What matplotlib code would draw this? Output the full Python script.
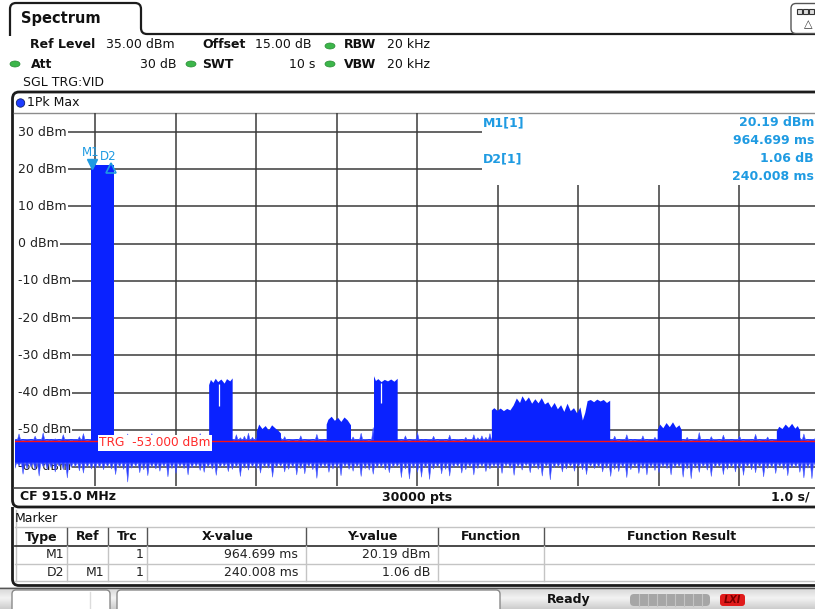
import numpy as np
import matplotlib
matplotlib.use("Agg")
import matplotlib.pyplot as plt
from matplotlib.path import Path
from matplotlib.patches import PathPatch, FancyBboxPatch, Ellipse, Circle

plt.rcParams['font.family'] = ['DejaVu Sans']

W, H = 815, 609

# ---------------- values ----------------
sweep_s = 10.0            # 1.0 s/div, 10 div
ref_level = 35.0          # dBm (top of screen)
bottom_level = -65.0
y_levels = [30, 20, 10, 0, -10, -20, -30, -40, -50, -60]
trg_level = -53.0

# solid part of the noise band (dBm)
core_hi, core_lo = -52.6, -58.8

# noise spikes, one value every 0.05 s (0 .. 10 s)
noise_hi = [
    -52.4, -51.0, -52.8, -52.5, -52.9, -51.6, -52.6, -50.7, -52.9, -52.7, -52.3, -52.8, -51.2, -52.5, -52.9, -52.6, -51.7, -50.9, -52.8, -52.4,
    -52.5, -52.5, -52.5, -52.5, -52.5, -51.6, -52.8, -52.6, -51.0, -52.9, -52.4, -52.7, -51.8, -52.9, -50.9, -52.6, -52.8, -52.3, -51.4, -52.9,
    -52.7, -51.3, -52.5, -52.9, -52.6, -51.8, -50.9, -52.8, -52.5, -52.9, -52.5, -52.5, -52.5, -52.5, -52.5, -51.2, -52.0, -51.6, -50.8, -51.9,
    -52.0, -52.0, -52.0, -52.0, -52.0, -52.0, -52.0, -51.7, -52.8, -52.5, -52.9, -51.5, -52.7, -52.4, -52.9, -51.1, -52.6, -52.8, -52.0, -52.0,
    -52.0, -52.0, -52.0, -52.0, -51.8, -52.6, -50.8, -52.5, -52.9, -49.3, -52.5, -52.5, -52.5, -52.5, -52.5, -52.5, -52.7, -51.5, -52.8, -52.4,
    -50.6, -52.7, -52.9, -52.5, -51.6, -52.8, -52.6, -52.9, -51.3, -52.7, -52.4, -52.8, -51.9, -52.5, -51.2, -52.0, -51.5, -51.9, -50.9, -51.7,
    -52.0, -52.0, -52.0, -52.0, -52.0, -52.0, -52.0, -52.0, -52.0, -52.0, -52.0, -52.0, -52.0, -52.0, -52.0, -52.0, -52.0, -52.0, -52.0, -52.0,
    -52.0, -52.0, -52.0, -52.0, -52.0, -52.0, -52.0, -52.0, -52.6, -51.6, -52.9, -52.5, -51.2, -52.8, -52.7, -52.4, -51.5, -52.9, -52.6, -51.9,
    -52.0, -52.0, -52.0, -52.0, -52.0, -52.0, -52.7, -51.9, -52.8, -52.5, -50.6, -52.6, -52.9, -51.7, -52.4, -52.8, -51.3, -52.6, -52.9, -52.5,
    -51.5, -52.8, -52.6, -52.9, -51.1, -52.7, -52.4, -51.8, -52.9, -52.5, -52.0, -52.0, -52.0, -52.0, -52.0, -52.0, -51.0, -52.7, -52.5, -51.6,
    -52.8,
]
noise_lo = [
    -60.2, -59.6, -61.8, -60.4, -59.9, -60.7, -62.3, -59.8, -60.5, -60.1, -61.2, -59.7, -60.6, -62.8, -60.0, -59.8, -60.9, -61.5, -59.9, -60.4,
    -60.3, -60.0, -60.6, -59.8, -60.4, -61.9, -59.9, -60.5, -63.9, -60.2, -59.7, -61.4, -60.6, -62.2, -59.9, -60.4, -61.0, -59.8, -62.5, -60.3,
    -61.6, -59.8, -60.3, -62.0, -60.1, -59.7, -60.8, -61.3, -59.9, -60.4, -62.1, -60.0, -59.8, -61.1, -60.5, -59.9, -62.4, -60.2, -60.7, -59.8,
    -60.4, -61.5, -59.9, -60.2, -62.6, -60.0, -59.7, -61.2, -60.5, -59.9, -62.0, -60.3, -61.7, -59.8, -60.6, -62.9, -60.1, -59.9, -61.3, -60.4,
    -60.0, -62.2, -59.8, -60.5, -61.0, -59.9, -62.4, -60.3, -60.7, -61.8, -60.1, -59.9, -60.6, -61.4, -60.0, -59.8, -62.7, -60.4, -63.1, -60.2,
    -61.3, -62.6, -60.1, -63.2, -60.4, -59.9, -61.7, -60.5, -62.3, -60.0, -59.8, -61.5, -60.6, -59.9, -62.0, -60.3, -59.7, -61.1, -60.4, -59.9,
    -60.3, -61.6, -59.6, -60.2, -62.1, -59.8, -60.7, -59.5, -61.4, -59.9, -60.5, -62.3, -59.7, -63.3, -60.1, -59.8, -61.2, -60.4, -59.7, -61.0,
    -59.8, -60.6, -61.9, -59.7, -60.3, -59.9, -61.2, -60.2, -62.4, -60.5, -61.1, -60.0, -62.7, -60.6, -59.9, -61.6, -60.3, -62.0, -60.1, -60.8,
    -61.4, -59.9, -60.3, -62.0, -60.1, -59.8, -62.6, -60.4, -63.0, -60.2, -61.3, -59.9, -60.7, -62.4, -60.0, -59.8, -61.9, -60.5, -59.9, -61.2,
    -60.2, -62.1, -59.8, -60.6, -61.4, -59.9, -62.5, -60.3, -60.0, -61.6, -59.8, -60.5, -62.2, -60.1, -59.9, -61.3, -62.8, -60.2, -63.0, -60.4,
    -61.0,
]

# bursts above the floor: (time s, top level dBm)
burst_m1_t = [0.945, 1.240]
burst_m1_top = [21.2, 21.2]
burst_b_t = [2.418, 2.44, 2.47, 2.50, 2.53, 2.57, 2.61, 2.64, 2.68, 2.71]
burst_b_top = [-38.0, -36.6, -37.4, -36.3, -37.2, -36.5, -37.6, -36.4, -37.0, -36.2]
burst_c_t = [3.01, 3.04, 3.08, 3.12, 3.16, 3.20, 3.24, 3.28, 3.31]
burst_c_top = [-50.5, -48.6, -49.8, -49.0, -50.2, -48.8, -49.6, -50.3, -51.0]
burst_d_t = [3.878, 3.90, 3.94, 3.98, 4.02, 4.06, 4.10, 4.14, 4.18]
burst_d_top = [-48.6, -47.3, -46.5, -47.6, -46.8, -47.9, -46.7, -47.5, -48.8]
burst_e_t = [4.466, 4.49, 4.52, 4.56, 4.60, 4.64, 4.68, 4.72, 4.76]
burst_e_top = [-35.6, -36.9, -36.4, -37.2, -36.6, -37.0, -36.5, -37.1, -36.3]
burst_f_t = [5.93, 5.96, 6.00, 6.04, 6.08, 6.12, 6.16, 6.20, 6.24, 6.28, 6.31, 6.35, 6.39,
             6.43, 6.47, 6.51, 6.55, 6.59, 6.63, 6.67, 6.71, 6.75, 6.79, 6.83, 6.87, 6.91,
             6.95, 6.99, 7.03, 7.06, 7.09, 7.12, 7.16, 7.20, 7.24, 7.28, 7.32, 7.36, 7.40]
burst_f_top = [-44.8, -44.2, -44.9, -44.3, -45.0, -44.4, -44.8, -43.5, -41.6, -42.8, -41.0, -42.4, -41.3,
               -43.0, -41.8, -42.9, -41.5, -43.2, -42.6, -44.1, -42.8, -44.5, -43.4, -45.2, -43.0, -45.0,
               -44.2, -45.6, -44.0, -47.5, -45.5, -42.3, -42.0, -42.6, -41.9, -42.4, -42.0, -42.8, -42.2]
burst_g_t = [7.99, 8.02, 8.06, 8.10, 8.14, 8.18, 8.22, 8.26, 8.29]
burst_g_top = [-50.0, -48.6, -49.6, -48.2, -49.3, -48.0, -49.5, -48.8, -50.2]
burst_h_t = [9.47, 9.50, 9.54, 9.58, 9.62, 9.66, 9.70, 9.73, 9.76]
burst_h_top = [-50.4, -49.2, -49.8, -48.6, -49.5, -48.4, -49.7, -49.0, -50.3]

# thin gaps inside the tall bursts
notch_t = [2.54, 4.55]
notch_top = [-37.8, -37.3]
notch_bot = [-43.7, -42.7]

# markers
m1_t, m1_val = 0.964699, 20.19
d2_dt, d2_val = 0.240008, 1.06

trace_blue = '#0a22ff'
spike_blue = '#2438ff'
mk_blue = '#1f9be2'
dark = '#1c1c1c'

fig = plt.figure(figsize=(W / 100, H / 100), dpi=100)
fig.patch.set_facecolor('white')

# full-figure layer in pixel coordinates for the instrument chrome
ui = fig.add_axes([0, 0, 1, 1])
ui.set_xlim(0, W)
ui.set_ylim(H, 0)
ui.axis('off')
ui.set_zorder(0)

# plot area: 10 div x 80.5 px starting at x=14.5, 35 dBm at y=113.4, -65 dBm at y=485.6
px_l, px_r, px_t, px_b = 14.5, 14.5 + 805, 113.4, 485.6
ax = fig.add_axes([px_l / W, 1 - px_b / H, (px_r - px_l) / W, (px_b - px_t) / H])
ax.set_xlim(0, sweep_s)
ax.set_ylim(bottom_level, ref_level)
ax.axis('off')
ax.set_zorder(1)
ax.patch.set_visible(False)

def px2t(px):
    return (px - px_l) / 80.5

def py2db(py):
    return ref_level - (py - px_t) / ((px_b - px_t) / 100.0)

# ---------------- chrome ----------------
M, L, C3 = Path.MOVETO, Path.LINETO, Path.CURVE3
tab = Path([(10, 36), (10, 9), (10, 3), (16, 3), (135, 3), (141, 3), (141, 9), (141, 28),
            (141, 34), (147, 34), (W + 2, 34)],
           [M, L, C3, C3, L, C3, C3, L, C3, C3, L])
ui.add_patch(PathPatch(tab, fill=False, lw=1.6, ec=dark))
ui.text(21, 19, 'Spectrum', fontsize=10.5, fontweight='bold', va='center', color='#111')

# top-right icon
ui.add_patch(FancyBboxPatch((791, 3.5), 30, 30, boxstyle='round,pad=0,rounding_size=5',
                            fc='white', ec='#555', lw=1.0))
for k in range(3):
    ui.add_patch(FancyBboxPatch((797 + k * 6, 9), 5, 5, boxstyle='square,pad=0',
                                fc='#ddd', ec='#333', lw=0.8))
ui.text(808, 24, '\u25b3', fontsize=8, ha='center', va='center', color='#333')

hdr = dict(fontsize=9, va='center', color='#111')
ui.text(30.5, 45, 'Ref Level', fontweight='bold', **hdr)
ui.text(106, 45, '35.00 dBm', **hdr)
ui.text(202, 45, 'Offset', fontweight='bold', **hdr)
ui.text(255, 45, '15.00 dB', **hdr)
ui.text(344, 45, 'RBW', fontweight='bold', **hdr)
ui.text(387, 45, '20 kHz', **hdr)
ui.text(31, 64, 'Att', fontweight='bold', **hdr)
ui.text(177, 64, '30 dB', ha='right', **hdr)
ui.text(202, 64, 'SWT', fontweight='bold', **hdr)
ui.text(315, 64, '10 s', ha='right', **hdr)
ui.text(344, 64, 'VBW', fontweight='bold', **hdr)
ui.text(387, 64, '20 kHz', **hdr)
ui.text(23, 83, 'SGL TRG:VID', **hdr)
for gx, gy in [(330, 46), (15, 64), (191, 64), (330, 64)]:
    ui.add_patch(Ellipse((gx, gy), 10, 6, fc='#3cb64a', ec='#2a8a35', lw=0.5))

# trace window frame
win = Path([(W + 2, 92), (19, 92), (12.5, 92), (12.5, 99), (12.5, 500), (12.5, 507),
            (19, 507), (W + 2, 507)],
           [M, L, C3, C3, L, C3, C3, L])
ui.add_patch(PathPatch(win, fill=False, lw=2.0, ec=dark))
ui.plot([14, W], [113, 113], color='#8c8c8c', lw=1.0)
ui.plot([14, W], [487.5, 487.5], color='#444', lw=1.2)
ui.add_patch(Circle((20.5, 103), 4.2, fc='#1d3cff', ec='#10206a', lw=0.6))
ui.text(27, 103, '1Pk Max', **hdr)

bold9 = dict(fontsize=9, fontweight='bold', va='center', color='#111')
ui.text(20, 497, 'CF 915.0 MHz', **bold9)
ui.text(417, 497, '30000 pts', ha='center', **bold9)
ui.text(810, 497, '1.0 s/', ha='right', **bold9)

# marker readout (top right of the diagram)
rd = dict(fontsize=9, fontweight='bold', va='center', color=mk_blue)
ui.text(483, 123, 'M1[1]', **rd)
ui.text(483, 159, 'D2[1]', **rd)
ui.text(814, 123, f'{m1_val:.2f} dBm', ha='right', **rd)
ui.text(814, 141, f'{m1_t * 1000:.3f} ms', ha='right', **rd)
ui.text(814, 159, f'{d2_val:.2f} dB', ha='right', **rd)
ui.text(814, 177, f'{d2_dt * 1000:.3f} ms', ha='right', **rd)

# marker table
pnl = Path([(12.5, 507), (12.5, 579), (12.5, 585.5), (19, 585.5), (W + 2, 585.5)],
           [M, L, C3, C3, L])
ui.add_patch(PathPatch(pnl, fill=False, lw=2.0, ec=dark))
ui.plot([15.5, 15.5], [510, 581], color='#c4c4c4', lw=1.0)
ui.text(15, 519, 'Marker', fontsize=9, va='center', color='#111')
ui.plot([15, W], [527, 527], color='#c4c4c4', lw=1.0)
ui.plot([15, W], [546, 546], color='#3c3c3c', lw=1.3)
ui.plot([15, W], [563.5, 563.5], color='#c4c4c4', lw=1.0)
ui.plot([15, W], [581, 581], color='#c4c4c4', lw=1.0)
col_sep = [67, 108, 147, 306, 438, 544]
for cx in col_sep:
    ui.plot([cx, cx], [528, 546], color='#555', lw=1.0)
    ui.plot([cx, cx], [546, 581], color='#c4c4c4', lw=1.0)
col_names = ['Type', 'Ref', 'Trc', 'X-value', 'Y-value', 'Function', 'Function Result']
col_mid = [41, 88, 127, 228, 372, 491, 682]
for name, cx in zip(col_names, col_mid):
    ui.text(cx, 537, name, ha='center', **bold9)
rows = [('M1', '', '1', f'{m1_t * 1000:.3f} ms', f'{m1_val:.2f} dBm'),
        ('D2', 'M1', '1', f'{d2_dt * 1000:.3f} ms', f'{d2_val:.2f} dB')]
col_right = [64, 104, 144, 298, 430]
for ry, row in zip([555, 573], rows):
    for txt, rx in zip(row, col_right):
        ui.text(rx, ry, txt, ha='right', fontsize=9, va='center', color='#222')

# status bar
grad = np.linspace(0, 1, 30).reshape(-1, 1)
ui.imshow(grad, extent=(0, W, H, 587.5), cmap=matplotlib.colors.LinearSegmentedColormap.from_list(
    'bar', ['#d4d4d4', '#f3f3f3', '#cdcdcd']), aspect='auto', zorder=0)
ui.plot([0, W], [587.5, 587.5], color='#555', lw=1.0)
ui.add_patch(FancyBboxPatch((12, 590), 98, 26, boxstyle='round,pad=0,rounding_size=4',
                            fc='white', ec='#8a8a8a', lw=1.0))
ui.plot([90, 90], [592, H], color='#dcdcdc', lw=1.0)
ui.add_patch(FancyBboxPatch((117, 590), 383, 26, boxstyle='round,pad=0,rounding_size=4',
                            fc='white', ec='#8a8a8a', lw=1.0))
ui.text(547, 600, 'Ready', **bold9)
ui.add_patch(FancyBboxPatch((630, 594), 80, 12, boxstyle='round,pad=0,rounding_size=4',
                            fc='#a6a6a6', ec='none'))
for k in range(1, 9):
    ui.plot([630 + k * 9, 630 + k * 9], [594, 606], color='#c4c4c4', lw=0.8)
ui.add_patch(FancyBboxPatch((720, 594), 25, 12, boxstyle='round,pad=0,rounding_size=3',
                            fc='#e01b1b', ec='none'))
ui.text(732.5, 600, 'LXI', fontsize=7, fontweight='bold', fontstyle='italic',
        ha='center', va='center', color='#7a0000')

# ---------------- diagram ----------------
lbls = []
for lv in y_levels:
    lbls.append(ax.text(px2t(18), lv, f'{lv} dBm', fontsize=9, va='center', ha='left',
                        color='#222', zorder=2))

for k in range(1, 10):
    top = ref_level if k <= 5 else py2db(185)
    ax.vlines(k, bottom_level, top, color='#3a3a3a', lw=1.1, zorder=1)

# noise floor: solid core plus a needle at every sample
t_noise = np.linspace(0, sweep_s, len(noise_hi))
n = len(t_noise)
half = 0.02
tt = np.clip(np.repeat(t_noise, 3) + np.tile([-half, 0.0, half], n), 0, sweep_s)
top_edge = np.column_stack([np.full(n, core_hi), noise_hi, np.full(n, core_hi)]).ravel()
bot_edge = np.column_stack([np.full(n, core_lo), noise_lo, np.full(n, core_lo)]).ravel()
ax.fill_between([0, sweep_s], core_lo, core_hi, color=trace_blue, lw=0, zorder=3)
ax.fill_between(tt, core_hi, top_edge, color=spike_blue, lw=0.4, ec='#4a5cff', zorder=3)
ax.fill_between(tt, bot_edge, core_lo, color=spike_blue, lw=0.4, ec='#4a5cff', zorder=3)

bursts = [(burst_m1_t, burst_m1_top), (burst_b_t, burst_b_top), (burst_c_t, burst_c_top),
          (burst_d_t, burst_d_top), (burst_e_t, burst_e_top), (burst_f_t, burst_f_top),
          (burst_g_t, burst_g_top), (burst_h_t, burst_h_top)]
for bt, btop in bursts:
    xs = [bt[0]] + list(bt) + [bt[-1]]
    ys = [-56.0] + list(btop) + [-56.0]
    ax.fill(xs, ys, color=trace_blue, lw=0, zorder=3.2)
ax.vlines(notch_t, notch_bot, notch_top, color='white', lw=0.9, zorder=3.5)

ax.axhline(trg_level, color='#ff1010', lw=1.0, zorder=4)
ax.text(px2t(99), trg_level - 0.5, f'TRG  {trg_level:.3f} dBm', fontsize=8.7, color='#ff2a2a',
        va='center', ha='left', zorder=5,
        bbox=dict(boxstyle='square,pad=0.12', fc='white', ec='none'))

ax.plot([m1_t], [burst_m1_top[0] + 0.2], marker='v', ms=6.5, color=mk_blue, zorder=6)
ax.plot([m1_t + d2_dt], [burst_m1_top[0] - 1.0], marker='^', ms=6.5, mfc='none',
        mec=mk_blue, mew=1.2, zorder=6)
ax.text(px2t(82), py2db(152.5), 'M1', fontsize=8.5, color=mk_blue, va='center', zorder=6)
ax.text(px2t(100), py2db(157), 'D2', fontsize=8.5, color=mk_blue, va='center', zorder=6)

# horizontal grid lines start right after each level label
fig.canvas.draw()
rend = fig.canvas.get_renderer()
inv = ax.transData.inverted()
for lv, tx in zip(y_levels, lbls):
    x1 = tx.get_window_extent(rend).x1 + 1
    t0 = inv.transform((x1, 0))[0]
    t1 = px2t(482) if lv >= 20 else sweep_s
    ax.hlines(lv, t0, t1, color='#3a3a3a', lw=1.1, zorder=1)

fig.savefig('out.png', dpi=100)
